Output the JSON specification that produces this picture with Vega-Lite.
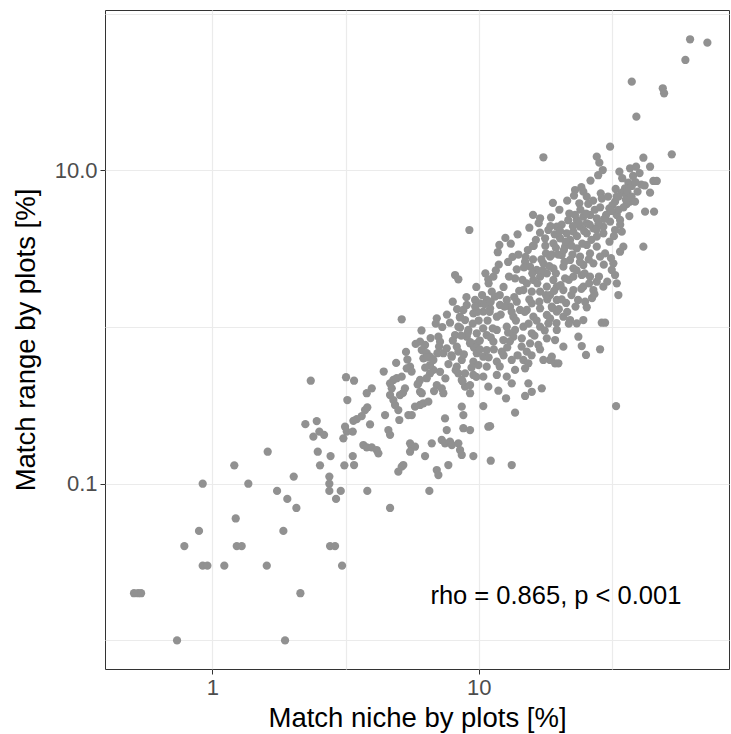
{
  "$schema": "https://vega.github.io/schema/vega-lite/v6.json",
  "width": 624,
  "height": 659,
  "autosize": {"type": "none"},
  "padding": {"left": 105, "top": 10, "right": 2, "bottom": 65},
  "background": "white",
  "config": {
    "font": "Liberation Sans",
    "view": {"stroke": "#333333", "strokeWidth": 1}
  },
  "datasets": {
    "plots": [
      {"niche": 0.508, "range": 0.02}, {"niche": 0.526, "range": 0.02}, {"niche": 0.54, "range": 0.02},
      {"niche": 0.737, "range": 0.01}, {"niche": 1.875, "range": 0.01}, {"niche": 0.785, "range": 0.04},
      {"niche": 0.891, "range": 0.05}, {"niche": 0.92, "range": 0.1}, {"niche": 0.92, "range": 0.03},
      {"niche": 0.958, "range": 0.03}, {"niche": 1.109, "range": 0.03}, {"niche": 1.209, "range": 0.131},
      {"niche": 1.224, "range": 0.06}, {"niche": 1.235, "range": 0.04}, {"niche": 1.289, "range": 0.04},
      {"niche": 1.365, "range": 0.1}, {"niche": 1.601, "range": 0.03}, {"niche": 1.614, "range": 0.16},
      {"niche": 1.75, "range": 0.09}, {"niche": 1.848, "range": 0.05}, {"niche": 1.912, "range": 0.08},
      {"niche": 2.021, "range": 0.111}, {"niche": 2.068, "range": 0.07}, {"niche": 2.141, "range": 0.02},
      {"niche": 2.342, "range": 0.454}, {"niche": 2.235, "range": 0.24}, {"niche": 2.466, "range": 0.251},
      {"niche": 2.395, "range": 0.1995}, {"niche": 2.522, "range": 0.215}, {"niche": 2.627, "range": 0.205},
      {"niche": 2.488, "range": 0.16}, {"niche": 2.537, "range": 0.131}, {"niche": 2.779, "range": 0.15},
      {"niche": 2.75, "range": 0.111}, {"niche": 2.75, "range": 0.1}, {"niche": 2.75, "range": 0.09},
      {"niche": 2.914, "range": 0.08}, {"niche": 3.035, "range": 0.09}, {"niche": 3.131, "range": 0.131},
      {"niche": 2.767, "range": 0.04}, {"niche": 2.889, "range": 0.04}, {"niche": 3.07, "range": 0.03},
      {"niche": 3.177, "range": 0.478}, {"niche": 3.213, "range": 0.342},
      {"niche": 3.819, "range": 0.09}, {"niche": 4.649, "range": 0.07}, {"niche": 6.529, "range": 0.09},
      {"niche": 3.405, "range": 0.454}, {"niche": 3.8, "range": 0.378}, {"niche": 3.968, "range": 0.406},
      {"niche": 3.744, "range": 0.295}, {"niche": 3.819, "range": 0.307}, {"niche": 3.639, "range": 0.27},
      {"niche": 3.485, "range": 0.258}, {"niche": 3.385, "range": 0.252}, {"niche": 3.15, "range": 0.231},
      {"niche": 3.197, "range": 0.215}, {"niche": 3.104, "range": 0.1949}, {"niche": 3.367, "range": 0.215},
      {"niche": 3.91, "range": 0.239}, {"niche": 3.69, "range": 0.1766}, {"niche": 3.8, "range": 0.1707},
      {"niche": 3.968, "range": 0.1707}, {"niche": 4.143, "range": 0.1641}, {"niche": 4.202, "range": 0.1563},
      {"niche": 3.367, "range": 0.15}, {"niche": 3.405, "range": 0.1316}, {"niche": 5.141, "range": 0.1284},
      {"niche": 4.992, "range": 0.1193}, {"niche": 5.213, "range": 0.1316},
      {"niche": 4.452, "range": 0.274}, {"niche": 4.581, "range": 0.22}, {"niche": 4.649, "range": 0.205},
      {"niche": 5.036, "range": 0.255}, {"niche": 5.336, "range": 0.693}, {"niche": 4.783, "range": 0.459},
      {"niche": 4.649, "range": 0.437}, {"niche": 4.923, "range": 0.471}, {"niche": 5.141, "range": 0.482},
      {"niche": 4.717, "range": 0.406}, {"niche": 4.649, "range": 0.368}, {"niche": 4.783, "range": 0.342},
      {"niche": 4.853, "range": 0.318}, {"niche": 4.992, "range": 0.295}, {"niche": 5.289, "range": 0.406},
      {"niche": 5.066, "range": 0.368}, {"niche": 5.526, "range": 0.558}, {"niche": 5.37, "range": 0.545},
      {"niche": 5.445, "range": 0.274}, {"niche": 5.608, "range": 0.274}, {"niche": 5.767, "range": 0.31},
      {"niche": 6.025, "range": 0.318}, {"niche": 6.2, "range": 0.326}, {"niche": 6.473, "range": 0.334},
      {"niche": 6.025, "range": 0.386}, {"niche": 6.114, "range": 0.378}, {"niche": 5.526, "range": 0.1811},
      {"niche": 5.608, "range": 0.1722}, {"niche": 5.767, "range": 0.1722}, {"niche": 5.526, "range": 0.16},
      {"niche": 6.291, "range": 0.15}, {"niche": 6.667, "range": 0.1811}, {"niche": 6.962, "range": 0.1223},
      {"niche": 7.059, "range": 0.1136}, {"niche": 7.694, "range": 0.1316}, {"niche": 7.267, "range": 0.1901},
      {"niche": 7.477, "range": 0.1811}, {"niche": 7.806, "range": 0.1854}, {"niche": 7.931, "range": 0.1766},
      {"niche": 7.588, "range": 0.22}, {"niche": 7.477, "range": 0.261}, {"niche": 8.39, "range": 0.1811},
      {"niche": 8.514, "range": 0.1641}, {"niche": 8.64, "range": 0.1525}, {"niche": 8.761, "range": 0.226},
      {"niche": 9.284, "range": 0.22}, {"niche": 9.552, "range": 0.15}, {"niche": 8.64, "range": 0.31},
      {"niche": 8.761, "range": 0.274}, {"niche": 10.41, "range": 0.313}, {"niche": 10.87, "range": 0.231},
      {"niche": 6.025, "range": 0.806}, {"niche": 6.291, "range": 0.768}, {"niche": 6.114, "range": 0.713},
      {"niche": 6.384, "range": 0.68}, {"niche": 6.569, "range": 0.646}, {"niche": 6.2, "range": 0.631},
      {"niche": 6.76, "range": 0.616}, {"niche": 7.059, "range": 0.867}, {"niche": 7.161, "range": 0.806},
      {"niche": 7.368, "range": 0.68}, {"niche": 7.588, "range": 0.731}, {"niche": 8.154, "range": 0.889},
      {"niche": 8.275, "range": 0.749}, {"niche": 8.39, "range": 0.696}, {"niche": 7.931, "range": 0.646},
      {"niche": 8.64, "range": 0.616}, {"niche": 9.023, "range": 0.867}, {"niche": 9.284, "range": 0.787},
      {"niche": 9.838, "range": 0.68}, {"niche": 9.552, "range": 0.601}, {"niche": 9.975, "range": 0.572},
      {"niche": 10.41, "range": 0.646}, {"niche": 10.72, "range": 0.713}, {"niche": 9.838, "range": 0.787},
      {"niche": 6.76, "range": 0.532}, {"niche": 7.161, "range": 0.518}, {"niche": 6.569, "range": 0.506},
      {"niche": 6.384, "range": 0.471}, {"niche": 6.025, "range": 0.459}, {"niche": 5.934, "range": 0.437},
      {"niche": 6.962, "range": 0.426}, {"niche": 7.267, "range": 0.406}, {"niche": 7.368, "range": 0.378},
      {"niche": 6.569, "range": 0.572}, {"niche": 8.275, "range": 0.558}, {"niche": 8.39, "range": 0.506},
      {"niche": 8.64, "range": 0.459}, {"niche": 8.891, "range": 0.416}, {"niche": 9.284, "range": 0.426},
      {"niche": 9.552, "range": 0.494}, {"niche": 10.41, "range": 0.482}, {"niche": 10.72, "range": 0.558},
      {"niche": 10.87, "range": 0.416}, {"niche": 8.891, "range": 0.506}, {"niche": 8.514, "range": 0.99},
      {"niche": 9.228, "range": 4.159}, {"niche": 11.96, "range": 3.337}, {"niche": 15.97, "range": 3.288},
      {"niche": 17.76, "range": 3.683}, {"niche": 18.27, "range": 4.159}, {"niche": 19.08, "range": 3.421},
      {"niche": 19.65, "range": 4.367}, {"niche": 8.154, "range": 2.147}, {"niche": 8.39, "range": 2.016},
      {"niche": 10.87, "range": 2.016}, {"niche": 11.36, "range": 2.094}, {"niche": 13.9, "range": 2.334},
      {"niche": 13.7, "range": 2.045}, {"niche": 14.94, "range": 2.61}, {"niche": 15.6, "range": 2.426},
      {"niche": 16.53, "range": 2.311}, {"niche": 17.5, "range": 2.55}, {"niche": 18.54, "range": 2.809},
      {"niche": 19.08, "range": 2.369}, {"niche": 18.03, "range": 2.202}, {"niche": 17.01, "range": 2.094},
      {"niche": 19.08, "range": 1.995}, {"niche": 19.65, "range": 1.808}, {"niche": 18.03, "range": 1.808},
      {"niche": 16.05, "range": 1.995}, {"niche": 15.16, "range": 1.9}, {"niche": 14.72, "range": 1.722},
      {"niche": 15.83, "range": 1.68}, {"niche": 17.01, "range": 1.68}, {"niche": 18.54, "range": 1.6},
      {"niche": 19.65, "range": 1.487}, {"niche": 7.993, "range": 1.45}, {"niche": 5.141, "range": 1.12},
      {"niche": 6.962, "range": 1.136}, {"niche": 7.806, "range": 1.065}, {"niche": 11.2, "range": 1.68},
      {"niche": 11.52, "range": 1.561}, {"niche": 10.72, "range": 1.487}, {"niche": 10.12, "range": 1.416},
      {"niche": 9.694, "range": 1.487}, {"niche": 9.023, "range": 1.382}, {"niche": 8.761, "range": 1.284},
      {"niche": 8.514, "range": 1.163}, {"niche": 8.891, "range": 1.108}, {"niche": 9.552, "range": 1.223},
      {"niche": 10.41, "range": 1.252}, {"niche": 11.04, "range": 1.316}, {"niche": 12.03, "range": 1.382},
      {"niche": 11.7, "range": 1.163}, {"niche": 12.75, "range": 1.487}, {"niche": 13.12, "range": 1.347},
      {"niche": 13.9, "range": 1.45}, {"niche": 14.3, "range": 1.284}, {"niche": 13.5, "range": 1.163},
      {"niche": 15.16, "range": 1.284}, {"niche": 15.83, "range": 1.416}, {"niche": 16.05, "range": 1.163},
      {"niche": 17.01, "range": 1.316}, {"niche": 18.03, "range": 1.193}, {"niche": 18.82, "range": 1.347},
      {"niche": 19.65, "range": 1.252}, {"niche": 8.39, "range": 1.004}, {"niche": 9.148, "range": 0.957},
      {"niche": 9.838, "range": 0.912}, {"niche": 10.72, "range": 0.889}, {"niche": 11.7, "range": 0.957},
      {"niche": 12.75, "range": 1.004}, {"niche": 13.7, "range": 0.957}, {"niche": 14.72, "range": 1.004},
      {"niche": 15.83, "range": 0.912}, {"niche": 17.01, "range": 1.004}, {"niche": 18.27, "range": 1.056},
      {"niche": 19.65, "range": 0.957}, {"niche": 11.36, "range": 0.806}, {"niche": 12.38, "range": 0.826},
      {"niche": 13.5, "range": 0.867}, {"niche": 14.52, "range": 0.847}, {"niche": 15.6, "range": 0.787},
      {"niche": 16.76, "range": 0.768}, {"niche": 18.03, "range": 0.847}, {"niche": 19.36, "range": 0.826},
      {"niche": 17.5, "range": 12.11}, {"niche": 17.01, "range": 4.94}, {"niche": 23.36, "range": 4.818},
      {"niche": 24.72, "range": 5.057}, {"niche": 26.19, "range": 5.185}, {"niche": 27.76, "range": 4.94},
      {"niche": 25.46, "range": 4.59}, {"niche": 24.03, "range": 4.367}, {"niche": 26.96, "range": 4.265},
      {"niche": 29.39, "range": 4.367}, {"niche": 31.15, "range": 4.699}, {"niche": 33.01, "range": 5.185},
      {"niche": 33.96, "range": 4.818}, {"niche": 32.52, "range": 4.159}, {"niche": 34.47, "range": 4.057},
      {"niche": 29.39, "range": 3.963}, {"niche": 27.76, "range": 3.77}, {"niche": 25.46, "range": 3.963},
      {"niche": 22.68, "range": 4.057}, {"niche": 21.42, "range": 3.963}, {"niche": 20.22, "range": 3.683},
      {"niche": 22.04, "range": 3.592}, {"niche": 41.54, "range": 3.254}, {"niche": 34.94, "range": 3.254},
      {"niche": 33.96, "range": 3.023}, {"niche": 29.83, "range": 2.953}, {"niche": 21.11, "range": 3.254},
      {"niche": 23.36, "range": 3.178}, {"niche": 25.46, "range": 3.337}, {"niche": 27.76, "range": 3.254},
      {"niche": 26.19, "range": 2.953}, {"niche": 24.03, "range": 2.809}, {"niche": 22.04, "range": 2.677},
      {"niche": 20.51, "range": 2.88}, {"niche": 28.57, "range": 2.809}, {"niche": 26.96, "range": 2.55},
      {"niche": 24.72, "range": 2.487}, {"niche": 22.68, "range": 2.369}, {"niche": 20.8, "range": 2.426},
      {"niche": 32.05, "range": 2.55}, {"niche": 31.61, "range": 2.311}, {"niche": 32.52, "range": 2.147},
      {"niche": 33.01, "range": 1.9}, {"niche": 33.47, "range": 1.6}, {"niche": 21.11, "range": 2.045},
      {"niche": 22.68, "range": 2.094}, {"niche": 24.38, "range": 2.147}, {"niche": 26.19, "range": 2.094},
      {"niche": 27.76, "range": 1.945}, {"niche": 29.39, "range": 1.808}, {"niche": 26.96, "range": 1.722},
      {"niche": 24.72, "range": 1.808}, {"niche": 22.68, "range": 1.722}, {"niche": 20.8, "range": 1.722},
      {"niche": 23.62, "range": 1.487}, {"niche": 21.29, "range": 1.423}, {"niche": 26.65, "range": 1.531},
      {"niche": 62.21, "range": 68.55}, {"niche": 72.24, "range": 65.21}, {"niche": 59.74, "range": 50.56},
      {"niche": 37.58, "range": 36.76}, {"niche": 49.13, "range": 33.37}, {"niche": 49.69, "range": 31.0},
      {"niche": 39.1, "range": 21.99}, {"niche": 31.15, "range": 14.15}, {"niche": 53.11, "range": 12.65},
      {"niche": 27.76, "range": 12.21}, {"niche": 28.39, "range": 11.18}, {"niche": 29.24, "range": 10.04},
      {"niche": 41.54, "range": 12.03}, {"niche": 33.76, "range": 9.797}, {"niche": 37.03, "range": 10.3},
      {"niche": 39.0, "range": 10.54}, {"niche": 44.02, "range": 10.54}, {"niche": 45.29, "range": 8.548},
      {"niche": 46.65, "range": 8.548}, {"niche": 44.02, "range": 7.194}, {"niche": 36.49, "range": 8.335},
      {"niche": 37.58, "range": 7.94}, {"niche": 35.46, "range": 7.677}, {"niche": 34.47, "range": 7.194},
      {"niche": 33.47, "range": 6.783}, {"niche": 32.52, "range": 6.304}, {"niche": 35.98, "range": 6.955},
      {"niche": 37.03, "range": 6.304}, {"niche": 38.66, "range": 6.304}, {"niche": 35.98, "range": 6.095},
      {"niche": 42.16, "range": 5.442}, {"niche": 45.57, "range": 5.442}, {"niche": 30.96, "range": 5.721},
      {"niche": 28.74, "range": 7.13}, {"niche": 23.01, "range": 7.484}, {"niche": 24.72, "range": 7.3},
      {"niche": 25.46, "range": 6.783}, {"niche": 23.88, "range": 6.158},
      {"niche": 28.99, "range": 1.065}, {"niche": 29.83, "range": 1.065}, {"niche": 28.57, "range": 0.721},
      {"niche": 25.46, "range": 1.336}, {"niche": 23.68, "range": 0.867}, {"niche": 24.38, "range": 0.756},
      {"niche": 25.3, "range": 0.663}, {"niche": 20.8, "range": 0.749}, {"niche": 18.54, "range": 0.616},
      {"niche": 19.36, "range": 0.587}, {"niche": 17.5, "range": 0.616}, {"niche": 18.82, "range": 0.646},
      {"niche": 19.92, "range": 0.587}, {"niche": 32.81, "range": 0.313}, {"niche": 22.04, "range": 1.108},
      {"niche": 23.36, "range": 1.056}, {"niche": 24.72, "range": 1.108}, {"niche": 20.8, "range": 1.163},
      {"niche": 18.54, "range": 1.136}, {"niche": 15.16, "range": 0.696}, {"niche": 14.72, "range": 0.616},
      {"niche": 15.37, "range": 0.587}, {"niche": 14.94, "range": 0.545}, {"niche": 13.7, "range": 0.532},
      {"niche": 13.31, "range": 0.616}, {"niche": 12.21, "range": 0.696}, {"niche": 11.7, "range": 0.601},
      {"niche": 11.7, "range": 0.494}, {"niche": 12.75, "range": 0.482}, {"niche": 13.31, "range": 0.437},
      {"niche": 11.86, "range": 0.392}, {"niche": 12.67, "range": 0.351}, {"niche": 15.37, "range": 0.437},
      {"niche": 14.94, "range": 0.363}, {"niche": 15.83, "range": 0.386}, {"niche": 17.26, "range": 0.406},
      {"niche": 13.7, "range": 0.284}, {"niche": 11.04, "range": 0.233}, {"niche": 11.1, "range": 0.1402},
      {"niche": 13.31, "range": 0.1316}, {"niche": 9.284, "range": 0.378},
      {"niche": 10.3, "range": 1.6}, {"niche": 10.9, "range": 1.9}, {"niche": 11.6, "range": 2.3},
      {"niche": 12.4, "range": 1.8}, {"niche": 12.9, "range": 2.6}, {"niche": 13.6, "range": 1.55},
      {"niche": 14.1, "range": 2.9}, {"niche": 14.6, "range": 2.0}, {"niche": 15.3, "range": 3.1},
      {"niche": 15.9, "range": 2.2}, {"niche": 16.4, "range": 3.6}, {"niche": 17.2, "range": 2.7},
      {"niche": 17.8, "range": 3.3}, {"niche": 18.4, "range": 2.45}, {"niche": 19.3, "range": 3.9},
      {"niche": 19.9, "range": 2.9}, {"niche": 20.5, "range": 4.5}, {"niche": 21.2, "range": 3.5},
      {"niche": 21.9, "range": 5.3}, {"niche": 22.6, "range": 4.4}, {"niche": 23.4, "range": 3.8},
      {"niche": 24.1, "range": 5.6}, {"niche": 24.9, "range": 4.1}, {"niche": 25.8, "range": 6.1},
      {"niche": 26.5, "range": 3.6}, {"niche": 27.3, "range": 5.6}, {"niche": 28.2, "range": 4.6},
      {"niche": 29.0, "range": 6.6}, {"niche": 30.1, "range": 5.2}, {"niche": 31.0, "range": 3.5},
      {"niche": 31.8, "range": 6.0}, {"niche": 32.7, "range": 7.6}, {"niche": 33.5, "range": 5.6},
      {"niche": 34.6, "range": 8.9}, {"niche": 35.7, "range": 6.5}, {"niche": 36.8, "range": 5.1},
      {"niche": 38.0, "range": 9.2}, {"niche": 39.5, "range": 7.3}, {"niche": 40.8, "range": 8.1},
      {"niche": 9.5, "range": 1.05}, {"niche": 10.1, "range": 0.82}, {"niche": 10.8, "range": 1.1},
      {"niche": 11.4, "range": 0.72}, {"niche": 12.1, "range": 1.2}, {"niche": 12.9, "range": 0.92},
      {"niche": 13.8, "range": 1.1}, {"niche": 14.5, "range": 0.75}, {"niche": 15.4, "range": 1.05},
      {"niche": 16.2, "range": 0.88}, {"niche": 16.9, "range": 1.45}, {"niche": 17.7, "range": 0.95},
      {"niche": 18.9, "range": 1.32}, {"niche": 19.6, "range": 1.06}, {"niche": 20.5, "range": 1.5},
      {"niche": 21.5, "range": 1.25}, {"niche": 22.3, "range": 1.6}, {"niche": 23.1, "range": 1.35},
      {"niche": 24.3, "range": 1.75}, {"niche": 25.1, "range": 1.45}, {"niche": 26.0, "range": 1.9},
      {"niche": 27.2, "range": 1.62}, {"niche": 28.3, "range": 2.1}, {"niche": 29.5, "range": 2.5},
      {"niche": 30.4, "range": 1.95}, {"niche": 31.4, "range": 2.75},
      {"niche": 13.2, "range": 3.4}, {"niche": 14.0, "range": 3.9}, {"niche": 15.5, "range": 4.3},
      {"niche": 16.8, "range": 4.6}, {"niche": 18.7, "range": 5.0}, {"niche": 20.1, "range": 5.6},
      {"niche": 21.5, "range": 6.4}, {"niche": 22.8, "range": 6.9}, {"niche": 24.3, "range": 7.8},
      {"niche": 26.3, "range": 8.6}, {"niche": 28.1, "range": 9.3}, {"niche": 11.8, "range": 3.0},
      {"niche": 12.6, "range": 3.7}, {"niche": 16.0, "range": 5.2}, {"niche": 19.0, "range": 6.2},
      {"niche": 5.4, "range": 0.62}, {"niche": 5.8, "range": 0.78}, {"niche": 6.3, "range": 0.55},
      {"niche": 6.6, "range": 0.85}, {"niche": 7.0, "range": 0.68}, {"niche": 7.3, "range": 1.0},
      {"niche": 7.7, "range": 0.58}, {"niche": 8.0, "range": 0.82}, {"niche": 8.5, "range": 1.15},
      {"niche": 8.8, "range": 0.67}, {"niche": 9.1, "range": 0.92}, {"niche": 9.6, "range": 0.74},
      {"niche": 5.9, "range": 0.43}, {"niche": 6.8, "range": 0.39}, {"niche": 7.5, "range": 0.47},
      {"niche": 8.2, "range": 0.53}, {"niche": 9.9, "range": 1.25}, {"niche": 10.5, "range": 1.4},
      {"niche": 11.3, "range": 0.98}, {"niche": 12.4, "range": 0.66}, {"niche": 13.1, "range": 0.81},
      {"niche": 9.4, "range": 0.55}, {"niche": 4.4, "range": 0.52}, {"niche": 4.9, "range": 0.59},
      {"niche": 5.2, "range": 0.38},
      {"niche": 15.0, "range": 2.8}, {"niche": 16.1, "range": 3.3}, {"niche": 17.0, "range": 4.0},
      {"niche": 17.9, "range": 2.95}, {"niche": 18.6, "range": 4.4}, {"niche": 19.5, "range": 3.2},
      {"niche": 20.2, "range": 4.1}, {"niche": 20.9, "range": 3.1}, {"niche": 21.7, "range": 4.8},
      {"niche": 22.3, "range": 3.3}, {"niche": 23.0, "range": 5.2}, {"niche": 23.8, "range": 4.6},
      {"niche": 24.5, "range": 3.4}, {"niche": 25.3, "range": 5.3}, {"niche": 26.1, "range": 4.5},
      {"niche": 26.9, "range": 6.4}, {"niche": 27.7, "range": 4.2}, {"niche": 28.6, "range": 5.8},
      {"niche": 29.6, "range": 4.9}, {"niche": 30.6, "range": 6.8}, {"niche": 31.5, "range": 5.5},
      {"niche": 32.2, "range": 3.8}, {"niche": 33.0, "range": 6.8}, {"niche": 34.0, "range": 4.5},
      {"niche": 35.0, "range": 5.8}, {"niche": 36.2, "range": 7.3}, {"niche": 37.5, "range": 6.8},
      {"niche": 38.8, "range": 8.4}, {"niche": 40.2, "range": 9.6}, {"niche": 42.0, "range": 8.0},
      {"niche": 9.8, "range": 1.8}, {"niche": 10.6, "range": 2.2}, {"niche": 11.1, "range": 1.45},
      {"niche": 11.9, "range": 2.5}, {"niche": 12.5, "range": 1.35}, {"niche": 13.0, "range": 2.1},
      {"niche": 13.4, "range": 2.8}, {"niche": 14.2, "range": 1.7}, {"niche": 14.8, "range": 2.4},
      {"niche": 15.5, "range": 1.5}, {"niche": 16.0, "range": 2.7}, {"niche": 16.6, "range": 1.9},
      {"niche": 17.4, "range": 2.3}, {"niche": 18.1, "range": 1.5}, {"niche": 18.8, "range": 2.9},
      {"niche": 19.5, "range": 2.2}, {"niche": 20.3, "range": 1.85}, {"niche": 21.0, "range": 2.6},
      {"niche": 21.8, "range": 2.0}, {"niche": 22.5, "range": 2.9}, {"niche": 23.3, "range": 2.3},
      {"niche": 24.0, "range": 2.6}, {"niche": 25.0, "range": 2.2}, {"niche": 25.9, "range": 2.7},
      {"niche": 12.0, "range": 1.6}, {"niche": 13.3, "range": 1.25}, {"niche": 14.9, "range": 1.25},
      {"niche": 16.5, "range": 1.1}, {"niche": 17.9, "range": 1.6}, {"niche": 19.2, "range": 1.7},
      {"niche": 20.0, "range": 1.3}, {"niche": 21.8, "range": 1.05}, {"niche": 11.0, "range": 1.25},
      {"niche": 10.0, "range": 1.1},
      {"niche": 6.1, "range": 0.95}, {"niche": 6.9, "range": 1.05}, {"niche": 7.6, "range": 1.2},
      {"niche": 8.3, "range": 1.3}, {"niche": 9.0, "range": 1.55}, {"niche": 9.7, "range": 1.35},
      {"niche": 10.4, "range": 0.98}, {"niche": 11.1, "range": 0.86}, {"niche": 7.1, "range": 0.75},
      {"niche": 7.9, "range": 0.66}, {"niche": 8.6, "range": 0.88}, {"niche": 9.3, "range": 0.8},
      {"niche": 10.1, "range": 0.72}, {"niche": 10.9, "range": 0.64}, {"niche": 8.7, "range": 0.45},
      {"niche": 9.8, "range": 0.48}, {"niche": 6.4, "range": 0.64}, {"niche": 5.6, "range": 0.52},
      {"niche": 12.0, "range": 0.56}, {"niche": 12.8, "range": 0.74}, {"niche": 14.0, "range": 0.66},
      {"niche": 15.8, "range": 0.66}, {"niche": 17.0, "range": 0.72}
    ],
    "note": [
      {"niche": 19.5, "range": 0.017, "label": "rho = 0.865, p < 0.001"}
    ]
  },
  "encoding": {
    "x": {
      "field": "niche",
      "type": "quantitative",
      "title": "Match niche by plots [%]",
      "scale": {"type": "log", "domain": [0.3953, 87.1], "nice": false},
      "axis": {
        "values": [1, 3.1623, 10, 31.623],
        "labelExpr": "datum.value == 1 ? '1' : datum.value == 10 ? '10' : ''",
        "domain": false,
        "tickColor": "#333333",
        "tickOpacity": {"condition": {"test": "datum.value == 1 || datum.value == 10", "value": 1}, "value": 0},
        "tickSize": 5,
        "labelFontSize": 22,
        "labelColor": "#4D4D4D",
        "labelPadding": 3,
        "labelFlush": false,
        "labelOverlap": false,
        "titleFontSize": 27.5,
        "titleFontWeight": "normal",
        "titleColor": "#000000",
        "titlePadding": 6,
        "gridColor": "#EBEBEB",
        "gridWidth": 1.2
      }
    },
    "y": {
      "field": "range",
      "type": "quantitative",
      "title": "Match range by plots [%]",
      "scale": {"type": "log", "domain": [0.006571, 105.4], "nice": false},
      "axis": {
        "values": [0.01, 0.1, 1, 10, 100],
        "labelExpr": "datum.value == 0.1 ? '0.1' : datum.value == 10 ? '10.0' : ''",
        "domain": false,
        "tickColor": "#333333",
        "tickOpacity": {"condition": {"test": "datum.value == 0.1 || datum.value == 10", "value": 1}, "value": 0},
        "tickSize": 5,
        "labelFontSize": 22,
        "labelColor": "#4D4D4D",
        "labelPadding": 3,
        "labelFlush": false,
        "labelOverlap": false,
        "titleFontSize": 27.5,
        "titleFontWeight": "normal",
        "titleColor": "#000000",
        "titlePadding": 14,
        "gridColor": "#EBEBEB",
        "gridWidth": 1.2
      }
    }
  },
  "layer": [
    {
      "data": {"name": "plots"},
      "mark": {"type": "circle", "size": 68, "color": "#919191", "opacity": 1}
    },
    {
      "data": {"name": "note"},
      "mark": {"type": "text", "fontSize": 25.5, "color": "#000000", "align": "center", "baseline": "alphabetic"},
      "encoding": {"text": {"field": "label"}}
    }
  ]
}
